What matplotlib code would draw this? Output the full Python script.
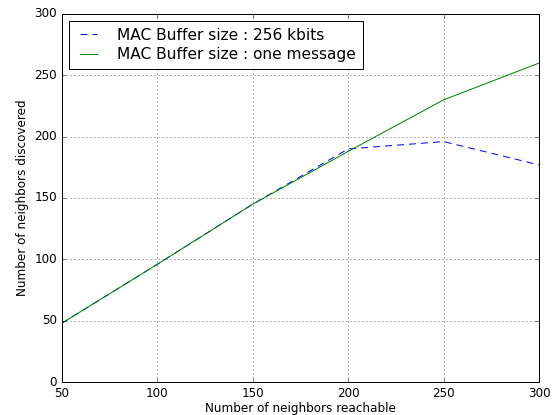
import matplotlib
matplotlib.use("Agg")
import matplotlib.pyplot as plt

plt.style.use("classic")

# --- data ---
reachable = [50, 100, 150, 200, 250, 300]
buffer_256k = [48, 96, 145, 190, 196, 177]
buffer_one_msg = [48, 96, 145, 188, 230, 260]

fig = plt.figure(figsize=(559 / 72, 415 / 72), dpi=72, facecolor="white")
ax = fig.add_axes([62 / 559, 33 / 415, 477 / 559, 368 / 415])

ax.plot(reachable, buffer_256k, "b--", dashes=(7, 5), label="MAC Buffer size : 256 kbits")
ax.plot(reachable, buffer_one_msg, "g-", label="MAC Buffer size : one message")

ax.set_xlim(50, 300)
ax.set_ylim(0, 300)
ax.set_xlabel("Number of neighbors reachable", fontsize=12, labelpad=2)
ax.set_ylabel("Number of neighbors discovered", fontsize=12)
ax.tick_params(labelsize=12, pad=5)
ax.grid(True, color="k", linestyle=(0, (1, 3)), linewidth=0.8, alpha=0.7)
ax.legend(loc="upper left", fontsize=15.4, fancybox=False,
          handlelength=1.7, handletextpad=1.0, borderpad=0.45,
          labelspacing=0.3, borderaxespad=0.45)

fig.savefig("out.png", dpi=72, facecolor="white")
